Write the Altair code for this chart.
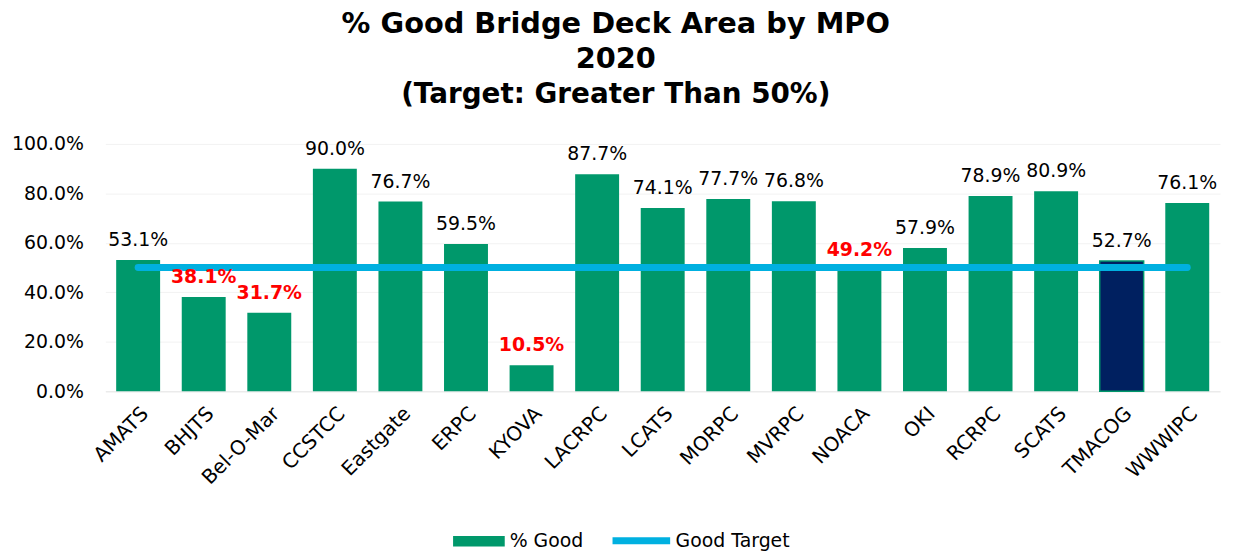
import altair as alt
import pandas as pd

mpos = ["AMATS", "BHJTS", "Bel-O-Mar", "CCSTCC", "Eastgate", "ERPC", "KYOVA", "LACRPC",
        "LCATS", "MORPC", "MVRPC", "NOACA", "OKI", "RCRPC", "SCATS", "TMACOG", "WWWIPC"]
pct_good = [53.1, 38.1, 31.7, 90.0, 76.7, 59.5, 10.5, 87.7, 74.1, 77.7, 76.8, 49.2, 57.9,
            78.9, 80.9, 52.7, 76.1]
good_target = [50.0] * len(mpos)
highlight_mpo = "TMACOG"
y_ticks = [0, 20, 40, 60, 80, 100]
series_names = ["% Good", "Good Target"]

df = pd.DataFrame({"mpo": mpos, "good": pct_good, "target": good_target})
df["label"] = df["good"].map(lambda v: f"{v:.1f}%")
df["below"] = df["good"] < df["target"]
df["bar_series"] = series_names[0]
df["line_series"] = series_names[1]

FONT = "DejaVu Sans"
GREEN = "#00986B"
NAVY = "#002060"
CYAN = "#00B0E0"

x_enc = alt.X("mpo:N", sort=mpos, title=None,
              scale=alt.Scale(paddingInner=0.33, paddingOuter=0.165),
              axis=alt.Axis(labelAngle=-45, labelFontSize=20, labelFont=FONT, labelColor="black",
                            ticks=False, domain=True, domainColor="#e6e6e6", labelPadding=12,
                            grid=False))
y_enc = alt.Y("good:Q", title=None, scale=alt.Scale(domain=[0, 100], nice=False),
              axis=alt.Axis(values=y_ticks, labelExpr="format(datum.value, '.1f') + '%'",
                            labelFontSize=19, labelFont=FONT, labelColor="black", ticks=False,
                            domain=False, labelPadding=22, grid=True, gridColor="#f2f2f2"))

base = alt.Chart(df)

bars = base.mark_bar().encode(
    x=x_enc, y=y_enc,
    fill=alt.Fill("bar_series:N", scale=alt.Scale(domain=[series_names[0]], range=[GREEN]),
                  legend=alt.Legend(title=None, orient="none", legendX=350, legendY=374,
                                    symbolType="M-1,-0.2H1V0.2H-1Z", symbolSize=2704,
                                    symbolStrokeWidth=0, labelFontSize=19, labelFont=FONT,
                                    labelColor="black", labelOffset=5)),
)

hl = base.transform_filter(alt.datum.mpo == highlight_mpo).mark_bar(
    fill=NAVY, stroke=GREEN, strokeWidth=1.5).encode(x=alt.X("mpo:N", sort=mpos), y="good:Q")

line = base.mark_line(strokeWidth=7, strokeCap="round").encode(
    x=alt.X("mpo:N", sort=mpos), y=alt.Y("target:Q"),
    stroke=alt.Stroke("line_series:N", scale=alt.Scale(domain=[series_names[1]], range=[CYAN]),
                      legend=alt.Legend(title=None, orient="none", legendX=507, legendY=367,
                                        symbolType="stroke", symbolSize=3364,
                                        symbolStrokeWidth=7, labelFontSize=19, labelFont=FONT,
                                        labelColor="black", labelOffset=2)),
)

labels_ok = base.transform_filter(alt.datum.below == False).mark_text(
    baseline="bottom", dy=-10, fontSize=19, font=FONT, color="black").encode(
    x=alt.X("mpo:N", sort=mpos), y="good:Q", text="label:N")

labels_bad = base.transform_filter(alt.datum.below == True).mark_text(
    baseline="bottom", dy=-10, fontSize=19, font=FONT, color="#FF0000", fontWeight="bold").encode(
    x=alt.X("mpo:N", sort=mpos), y="good:Q", text="label:N")

chart = alt.layer(bars, hl, line, labels_ok, labels_bad).properties(
    width=1122, height=249,
    title=alt.TitleParams(
        text=["% Good Bridge Deck Area by MPO", "2020"],
        subtitle="(Target: Greater Than 50%)",
        font=FONT, fontSize=29, fontWeight="bold", color="black", lineHeight=36,
        subtitleFont=FONT, subtitleFontSize=28, subtitleFontWeight="bold", subtitleColor="black",
        subtitlePadding=7, anchor="middle", frame="bounds", offset=26),
    autosize=alt.AutoSizeParams(type="none"),
    padding={"left": 98, "top": 135, "right": 6, "bottom": 162},
).resolve_scale(fill="independent", stroke="independent").configure_view(stroke=None)

chart.save("out.html", embed_options={"renderer": "svg", "actions": False})
